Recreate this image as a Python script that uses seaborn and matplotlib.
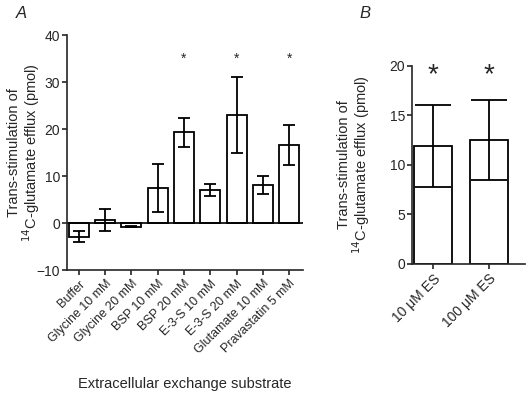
import numpy as np
import pandas as pd
import matplotlib
matplotlib.use("Agg")
import matplotlib.pyplot as plt
import seaborn as sns

# Panel A data
substrates = ["Buffer", "Glycine 10 mM", "Glycine 20 mM", "BSP 10 mM", "BSP 20 mM",
              "E-3-S 10 mM", "E-3-S 20 mM", "Glutamate 10 mM", "Pravastatin 5 mM"]
efflux_a = [-2.9, 0.7, -0.8, 7.5, 19.3, 7.1, 23.0, 8.2, 16.6]
err_a = [1.2, 2.3, 0.1, 5.1, 3.1, 1.3, 8.0, 1.9, 4.2]
sig_a = [False, False, False, False, True, False, True, False, True]

# Panel B data
es_conc = ["10 \u03bcM ES", "100 \u03bcM ES"]
efflux_b = [11.9, 12.5]
err_b = [4.15, 4.05]

sns.set_style("ticks")
plt.rcParams['font.family'] = ['Liberation Sans', 'DejaVu Sans']
plt.rcParams['axes.linewidth'] = 1.2
plt.rcParams['xtick.major.width'] = 1.2
plt.rcParams['ytick.major.width'] = 1.2

fig = plt.figure(figsize=(5.28, 3.95), dpi=100)
ax1 = fig.add_axes([0.127, 0.316, 0.447, 0.595])
ax2 = fig.add_axes([0.780, 0.332, 0.214, 0.501])

ylab = "Trans-stimulation of\n$^{14}$C-glutamate efflux (pmol)"

# Panel A
df_a = pd.DataFrame({"sub": substrates, "val": efflux_a})
sns.barplot(data=df_a, x="sub", y="val", ax=ax1, color="white", edgecolor="black",
            linewidth=1.3, width=0.76, errorbar=None)
ax1.errorbar(range(len(substrates)), efflux_a, yerr=err_a, fmt="none", ecolor="black",
             elinewidth=1.3, capsize=4, capthick=1.3)
for i, s in enumerate(sig_a):
    if s:
        ax1.text(i, 35, "*", ha="center", va="center", fontsize=10)
ax1.axhline(0, color="black", lw=1.2)
ax1.set_ylim(-10, 40)
ax1.set_yticks([-10, 0, 10, 20, 30, 40])
ax1.set_xlim(-0.45, len(substrates) - 0.47)
ax1.set_ylabel(ylab, fontsize=10.5, linespacing=1.0)
ax1.yaxis.set_label_coords(-0.105, 0.5)
ax1.set_xlabel("Extracellular exchange substrate", fontsize=10.5, labelpad=15)
ax1.set_xticks(range(len(substrates)))
ax1.set_xticklabels(substrates, rotation=45, ha="right", rotation_mode="anchor", fontsize=9)
ax1.tick_params(axis="y", labelsize=10, pad=1.5)
ax1.tick_params(axis="x", pad=2)
sns.despine(ax=ax1)
fig.text(0.03, 0.965, "A", fontsize=12, style="italic", va="center")

# Panel B
df_b = pd.DataFrame({"conc": es_conc, "val": efflux_b})
sns.barplot(data=df_b, x="conc", y="val", ax=ax2, color="white", edgecolor="black",
            linewidth=1.3, width=0.68, errorbar=None)
ax2.errorbar(range(len(es_conc)), efflux_b, yerr=err_b, fmt="none", ecolor="black",
             elinewidth=1.3, capsize=13, capthick=1.3)
for i in range(len(es_conc)):
    ax2.text(i, 19.1, "*", ha="center", va="center", fontsize=20)
ax2.set_ylim(0, 20)
ax2.set_yticks([0, 5, 10, 15, 20])
ax2.set_xlim(-0.375, len(es_conc) - 0.36)
ax2.set_ylabel(ylab, fontsize=10.5, linespacing=1.0)
ax2.yaxis.set_label_coords(-0.35, 0.5)
ax2.set_xlabel("")
ax2.set_xticks(range(len(es_conc)))
ax2.set_xticklabels(es_conc, rotation=45, ha="right", rotation_mode="anchor", fontsize=10)
ax2.tick_params(axis="y", labelsize=10, pad=1.5)
ax2.tick_params(axis="x", pad=2)
sns.despine(ax=ax2)
fig.text(0.68, 0.965, "B", fontsize=12, style="italic", va="center")

fig.savefig("out.png", dpi=100)
